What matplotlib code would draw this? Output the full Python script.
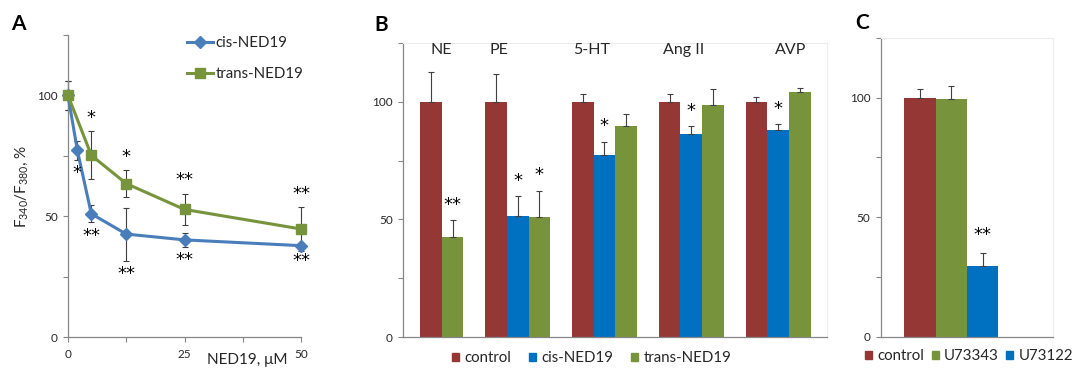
import matplotlib
matplotlib.use("Agg")
import matplotlib.pyplot as plt
from matplotlib.patches import Patch

plt.rcParams['font.family'] = ['Lato', 'DejaVu Sans']
plt.rcParams['mathtext.default'] = 'regular'

# ---------------- data ----------------
# Panel A
conc_cis = [0, 2, 5, 12.5, 25, 50]
cis_mean = [100, 77.3, 51, 42.6, 40.2, 37.8]
cis_err = [6, 4, 3.5, 11, 3, 1]
conc_trans = [0, 5, 12.5, 25, 50]
trans_mean = [100, 75.2, 63.5, 52.8, 44.7]
trans_err = [6, 10, 5.5, 6.5, 9]
stars_cis = ['', '*', '**', '**', '**', '**']
stars_trans = ['', '*', '*', '**', '**']

# Panel B
agonists = ['NE', 'PE', '5-HT', 'Ang II', 'AVP']
b_control = [100, 100, 100, 100, 100]
b_control_err = [12.8, 11.8, 3.2, 3.4, 2.2]
b_cis = [None, 51.3, 77.4, 86.1, 88.0]
b_cis_err = [None, 8.5, 5.6, 3.7, 2.4]
b_trans = [42.5, 51.0, 89.5, 98.6, 104.1]
b_trans_err = [7.2, 11.2, 5.2, 6.8, 1.9]
b_stars_cis = ['', '*', '*', '*', '*']
b_stars_trans = ['**', '*', '', '', '']
b_series = ['control', 'cis-NED19', 'trans-NED19']

# Panel C
c_labels = ['control', 'U73343', 'U73122']
c_values = [100, 99.4, 29.7]
c_err = [3.5, 5.6, 5.3]
c_stars = ['', '', '**']

# ---------------- style ----------------
RED = '#953735'
BLUE = '#0070c0'
GREEN = '#77933c'
LBLUE = '#4a7ebb'
AXC = '#868686'
ERRC = '#404040'
TXT = '#262626'
W, H = 1073, 369
STAR_FS = 13

fig = plt.figure(figsize=(W / 100, H / 100), dpi=100)


def px_axes(l, r, b, t):
    return fig.add_axes([l / W, 1 - b / H, (r - l) / W, (b - t) / H])


def style_axes(ax, faint_box=False):
    for s in ['top', 'right']:
        if faint_box:
            ax.spines[s].set_color('#ececec')
            ax.spines[s].set_linewidth(0.8)
        else:
            ax.spines[s].set_visible(False)
    for s in ['left', 'bottom']:
        ax.spines[s].set_color(AXC)
        ax.spines[s].set_linewidth(0.9)
    ax.set_ylim(0, 125)
    ax.set_yticks([0, 25, 50, 75, 100, 125])
    ax.set_yticklabels(['0', '', '50', '', '100', ''])
    ax.tick_params(axis='y', direction='out', length=3.5, width=0.8,
                   color=AXC, labelsize=8.5, labelcolor=TXT, pad=4)


def star(ax, x, y, s):
    ax.text(x, y, s, ha='center', va='center', fontsize=STAR_FS,
            color='#000000', family='DejaVu Sans')


# ---------------- Panel A ----------------
axA = px_axes(68, 301, 337, 35)
style_axes(axA)
axA.set_xlim(0, 50)
axA.set_xticks([0, 12.5, 25, 37.5, 50])
axA.set_xticklabels(['0', '', '25', '', '50'])
axA.tick_params(axis='x', direction='out', length=3.5, width=0.8,
                color=AXC, labelsize=8.5, labelcolor=TXT, pad=5)

axA.errorbar(conc_cis, cis_mean, yerr=cis_err, fmt='none', ecolor=ERRC,
             elinewidth=0.8, capsize=2.5, capthick=0.8, zorder=2, clip_on=False)
axA.errorbar(conc_trans, trans_mean, yerr=trans_err, fmt='none', ecolor=ERRC,
             elinewidth=0.8, capsize=2.5, capthick=0.8, zorder=2, clip_on=False)
axA.plot(conc_cis, cis_mean, color=LBLUE, lw=2.2, marker='D', ms=6.2,
         zorder=3, clip_on=False, label='cis-NED19')
axA.plot(conc_trans, trans_mean, color=GREEN, lw=2.2, marker='s', ms=7.5,
         zorder=4, clip_on=False, label='trans-NED19')

for x, y, e, s in zip(conc_cis, cis_mean, cis_err, stars_cis):
    if s:
        star(axA, x, y - e - 5.5, s)
for x, y, e, s in zip(conc_trans, trans_mean, trans_err, stars_trans):
    if s:
        star(axA, x, y + e + 5.5, s)

axA.set_ylabel('F$_{340}$/F$_{380}$, %', fontsize=11, color=TXT)
axA.yaxis.set_label_coords(-0.165, 0.5)
axA.set_xlabel('NED19, \u03bcM', fontsize=11, color=TXT, va='bottom')
axA.xaxis.set_label_coords(0.768, -0.1)

legA = axA.legend(loc='center left', bbox_to_anchor=(0.51, 0.9215), frameon=False,
                  fontsize=10.8, handlelength=1.75, handletextpad=0.15,
                  labelspacing=1.1, borderpad=0, borderaxespad=0)
for t in legA.get_texts():
    t.set_color(TXT)

# ---------------- Panel B ----------------
axB = px_axes(403, 826.7, 337, 43)
style_axes(axB, faint_box=True)
axB.set_xlim(-1.283, 18.24)
axB.set_xticks([])

slot = 0
label_x = [0.47, 3.14, 7.43, 11.64, 16.6]
for i, ag in enumerate(agonists):
    vals = [(b_control[i], b_control_err[i], RED, ''),
            (b_cis[i], b_cis_err[i], BLUE, b_stars_cis[i]),
            (b_trans[i], b_trans_err[i], GREEN, b_stars_trans[i])]
    for v, e, c, s in vals:
        if v is None:
            continue
        axB.bar(slot, v, width=1.0, color=c, zorder=2, linewidth=0)
        axB.errorbar(slot, v, yerr=[[0], [e]], fmt='none', ecolor=ERRC,
                     elinewidth=0.8, capsize=2.5, capthick=0.8, zorder=3)
        if s:
            star(axB, slot, v + e + 6.5, s)
        slot += 1
    slot += 1
    axB.text(label_x[i], 122, ag, ha='center', va='center', fontsize=11.5, color=TXT)

legB = fig.legend(handles=[Patch(color=RED), Patch(color=BLUE), Patch(color=GREEN)],
                  labels=b_series, loc='center left',
                  bbox_to_anchor=(451.7 / W, 1 - 358.3 / H), ncol=3, frameon=False,
                  fontsize=10.8, handlelength=0.47, handleheight=0.47,
                  handletextpad=0.35, columnspacing=1.2, borderpad=0, borderaxespad=0)
for t in legB.get_texts():
    t.set_color(TXT)

# ---------------- Panel C ----------------
axC = px_axes(880.7, 1053, 336.7, 38)
style_axes(axC, faint_box=True)
axC.set_xlim(-1.25, 4.236)
axC.set_xticks([])
c_colors = [RED, GREEN, BLUE]
for i, (v, e, s) in enumerate(zip(c_values, c_err, c_stars)):
    axC.bar(i, v, width=1.0, color=c_colors[i], zorder=2, linewidth=0)
    axC.errorbar(i, v, yerr=[[0], [e]], fmt='none', ecolor=ERRC,
                 elinewidth=0.8, capsize=2.5, capthick=0.8, zorder=3)
    if s:
        star(axC, i, v + e + 7.5, s)

legC = fig.legend(handles=[Patch(color=c) for c in c_colors],
                  labels=c_labels, loc='center left',
                  bbox_to_anchor=(865 / W, 1 - 356 / H), ncol=3, frameon=False,
                  fontsize=10.8, handlelength=0.47, handleheight=0.47,
                  handletextpad=0.35, columnspacing=0.5, borderpad=0, borderaxespad=0)
for t in legC.get_texts():
    t.set_color(TXT)

# panel letters
for lab, x, y in [('A', 18, 24), ('B', 380.7, 25), ('C', 861.7, 23)]:
    fig.text(x / W, 1 - y / H, lab, ha='center', va='center', fontsize=15,
             fontweight='bold', color='#000000')

fig.savefig('out.png', dpi=100)
